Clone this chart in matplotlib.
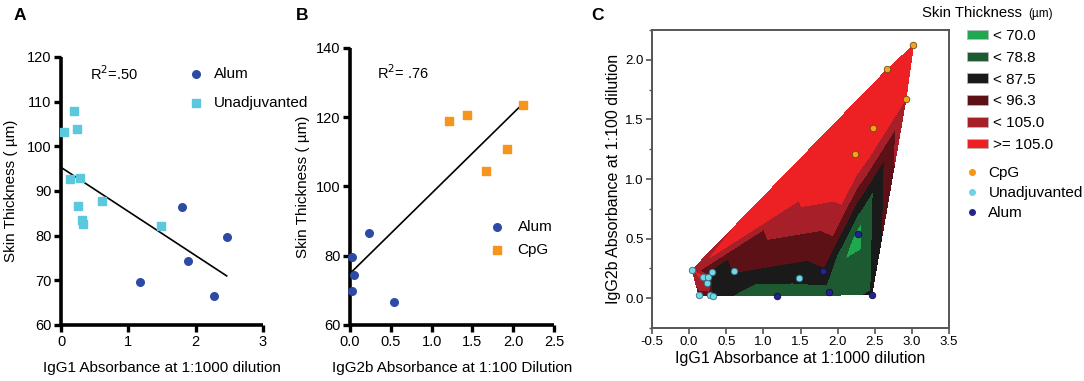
import numpy as np
import matplotlib
matplotlib.use("Agg")
import matplotlib.pyplot as plt
import matplotlib.tri as mtri
from matplotlib.patches import Patch
from matplotlib.lines import Line2D

plt.rcParams['font.family'] = ['Liberation Sans', 'DejaVu Sans']

# ---------------- data ----------------
alum_igg1 = [1.18, 1.80, 1.88, 2.27, 2.46]
alum_igg2b = [0.02, 0.23, 0.05, 0.54, 0.03]
alum_thick = [69.7, 86.5, 74.3, 66.6, 79.7]

unadj_igg1 = [0.04, 0.13, 0.19, 0.24, 0.25, 0.28, 0.31, 0.32, 0.61, 1.48]
unadj_igg2b = [0.236, 0.03, 0.174, 0.126, 0.18, 0.03, 0.22, 0.02, 0.224, 0.168]
unadj_thick = [103.3, 92.7, 108.0, 103.9, 86.7, 92.8, 83.5, 82.6, 87.8, 82.2]

cpg_igg1 = [2.24, 2.47, 2.92, 2.67, 3.02]
cpg_igg2b = [1.21, 1.43, 1.67, 1.92, 2.12]
cpg_thick = [118.9, 120.6, 104.6, 110.9, 123.5]

fitA_x = [0.0, 2.46]
fitA_y = [95.3, 71.0]
fitB_x = [0.01, 2.07]
fitB_y = [75.1, 122.8]

levels = [0, 70.0, 78.8, 87.5, 96.3, 105.0, 200]
level_labels = ['< 70.0', '< 78.8', '< 87.5', '< 96.3', '< 105.0', '>= 105.0']
level_colors = ['#1fa84f', '#1e5a31', '#1a1a1a', '#5c1116', '#a71f29', '#ed2024']

C_BLUE = '#2d4ba6'
C_CYAN = '#5cc8de'
C_ORANGE = '#f7941d'

W, H = 1084, 381
fig = plt.figure(figsize=(W / 100, H / 100), dpi=100)

def style_thick(ax):
    for s in ['top', 'right']:
        ax.spines[s].set_visible(False)
    for s in ['left', 'bottom']:
        ax.spines[s].set_linewidth(2.6)
        ax.spines[s].set_capstyle('butt')
    ax.tick_params(axis='both', direction='out', length=5, width=2.4,
                   labelsize=10.5, pad=2)

# ---------------- Panel A ----------------
axA = fig.add_axes([61 / W, 1 - 325 / H, 202 / W, 268 / H])
axA.plot(fitA_x, fitA_y, color='black', lw=1.2, zorder=2)
axA.scatter(alum_igg1, alum_thick, s=30, marker='o', color=C_BLUE, zorder=3,
            label='Alum', clip_on=False)
axA.scatter(unadj_igg1, unadj_thick, s=34, marker='s', color=C_CYAN, zorder=3,
            label='Unadjuvanted', clip_on=False)
axA.set_xlim(0, 3)
axA.set_ylim(60, 120)
axA.set_xticks([0, 1, 2, 3])
axA.set_yticks(np.arange(60, 121, 10))
style_thick(axA)
axA.set_xlabel('IgG1 Absorbance at 1:1000 dilution', fontsize=11, labelpad=9)
axA.set_ylabel('Skin Thickness ( µm)', fontsize=11, labelpad=6)
axA.text(0.43, 116.3, 'R$^2$=.50', fontsize=10.5, va='center', ha='left')
axA.legend(loc='center left', bbox_to_anchor=(0.585, 0.882), frameon=False,
           fontsize=11, handletextpad=0.6, borderpad=0, labelspacing=1.0,
           handlelength=1.2)

# ---------------- Panel B ----------------
axB = fig.add_axes([350 / W, 1 - 325 / H, 204 / W, 277 / H])
axB.plot(fitB_x, fitB_y, color='black', lw=1.2, zorder=2)
axB.scatter(alum_igg2b, alum_thick, s=30, marker='o', color=C_BLUE, zorder=3,
            label='Alum', clip_on=False)
axB.scatter(cpg_igg2b, cpg_thick, s=34, marker='s', color=C_ORANGE, zorder=3,
            label='CpG', clip_on=False)
axB.set_xlim(0, 2.5)
axB.set_ylim(60, 140)
axB.set_xticks([0, 0.5, 1.0, 1.5, 2.0, 2.5])
axB.set_xticklabels(['0.0', '0.5', '1.0', '1.5', '2.0', '2.5'])
axB.set_yticks(np.arange(60, 141, 20))
style_thick(axB)
axB.set_xlabel('IgG2b Absorbance at 1:100 Dilution', fontsize=11, labelpad=9)
axB.set_ylabel('Skin Thickness ( µm)', fontsize=11, labelpad=4)
axB.text(0.33, 133, 'R$^2$= .76', fontsize=10.5, va='center', ha='left')
axB.legend(loc='center left', bbox_to_anchor=(0.64, 0.313), frameon=False,
           fontsize=11, handletextpad=0.73, borderpad=0, labelspacing=0.6,
           handlelength=1.2)

# ---------------- Panel C ----------------
axC = fig.add_axes([652 / W, 1 - 328 / H, 297 / W, 298 / H])
all_x = np.array(alum_igg1 + unadj_igg1 + cpg_igg1)
all_y = np.array(alum_igg2b + unadj_igg2b + cpg_igg2b)
all_z = np.array(alum_thick + unadj_thick + cpg_thick)
tri = mtri.Triangulation(all_x, all_y)
axC.tricontourf(tri, all_z, levels=levels, colors=level_colors, zorder=1)
axC.scatter(cpg_igg1, cpg_igg2b, s=22, color='#f6a11f', edgecolor='#6b4a10',
            linewidth=0.6, zorder=3)
axC.scatter(unadj_igg1, unadj_igg2b, s=22, color='#6fd8ea', edgecolor='#3a6f7a',
            linewidth=0.6, zorder=3)
axC.scatter(alum_igg1, alum_igg2b, s=22, color='#24248e', edgecolor='#101040',
            linewidth=0.6, zorder=3)
axC.set_xlim(-0.5, 3.5)
axC.set_ylim(-0.25, 2.25)
axC.set_xticks(np.arange(-0.5, 3.51, 0.5))
axC.set_xticklabels(['-0.5', '0.0', '0.5', '1.0', '1.5', '2.0', '2.5', '3.0', '3.5'])
axC.set_yticks([0.0, 0.5, 1.0, 1.5, 2.0])
axC.set_yticklabels(['0.0', '0.5', '1.0', '1.5', '2.0'])
axC.set_yticks(np.arange(-0.25, 2.26, 0.25), minor=True)
for s in axC.spines.values():
    s.set_color('#555555')
    s.set_linewidth(1.4)
axC.tick_params(axis='both', which='major', direction='out', length=4, width=1.2,
                color='#555555', labelsize=9.5, pad=2)
axC.tick_params(axis='y', which='minor', direction='out', length=2, width=1.0,
                color='#555555')
axC.set_xlabel('IgG1 Absorbance at 1:1000 dilution', fontsize=11.5, labelpad=2)
axC.set_ylabel('IgG2b Absorbance at 1:100 dilution', fontsize=11.5, labelpad=3)

# legend for panel C
fig.text(922 / W, 1 - 13 / H, 'Skin Thickness', fontsize=10.7, va='center', ha='left')
fig.text(1028 / W, 1 - 14 / H, '(µm)', fontsize=8.5, va='center', ha='left')
patch_handles = [Patch(facecolor=c, edgecolor='#bbbbbb', linewidth=0.5) for c in level_colors]
fig.legend(patch_handles, level_labels, loc='upper left',
           bbox_to_anchor=(967 / W, 1 - 29 / H), frameon=False, fontsize=11,
           handlelength=1.4, handleheight=0.6, handletextpad=0.33,
           labelspacing=0.51, borderpad=0, borderaxespad=0)
marker_handles = [
    Line2D([], [], ls='none', marker='o', ms=4, color='#f7941d'),
    Line2D([], [], ls='none', marker='o', ms=4, color='#6fd3e5'),
    Line2D([], [], ls='none', marker='o', ms=4, color='#24248e'),
]
fig.legend(marker_handles, ['CpG', 'Unadjuvanted', 'Alum'], loc='upper left',
           bbox_to_anchor=(964 / W, 1 - 166 / H), frameon=False, fontsize=11,
           handlelength=1.0, handletextpad=0.6, labelspacing=0.4,
           borderpad=0, borderaxespad=0)

# panel letters
fig.text(20 / W, 1 - 15 / H, 'A', fontsize=12.5, fontweight='bold', va='center', ha='center')
fig.text(302 / W, 1 - 15 / H, 'B', fontsize=12.5, fontweight='bold', va='center', ha='center')
fig.text(597 / W, 1 - 15 / H, 'C', fontsize=12.5, fontweight='bold', va='center', ha='center')

fig.savefig('out.png', dpi=100)
